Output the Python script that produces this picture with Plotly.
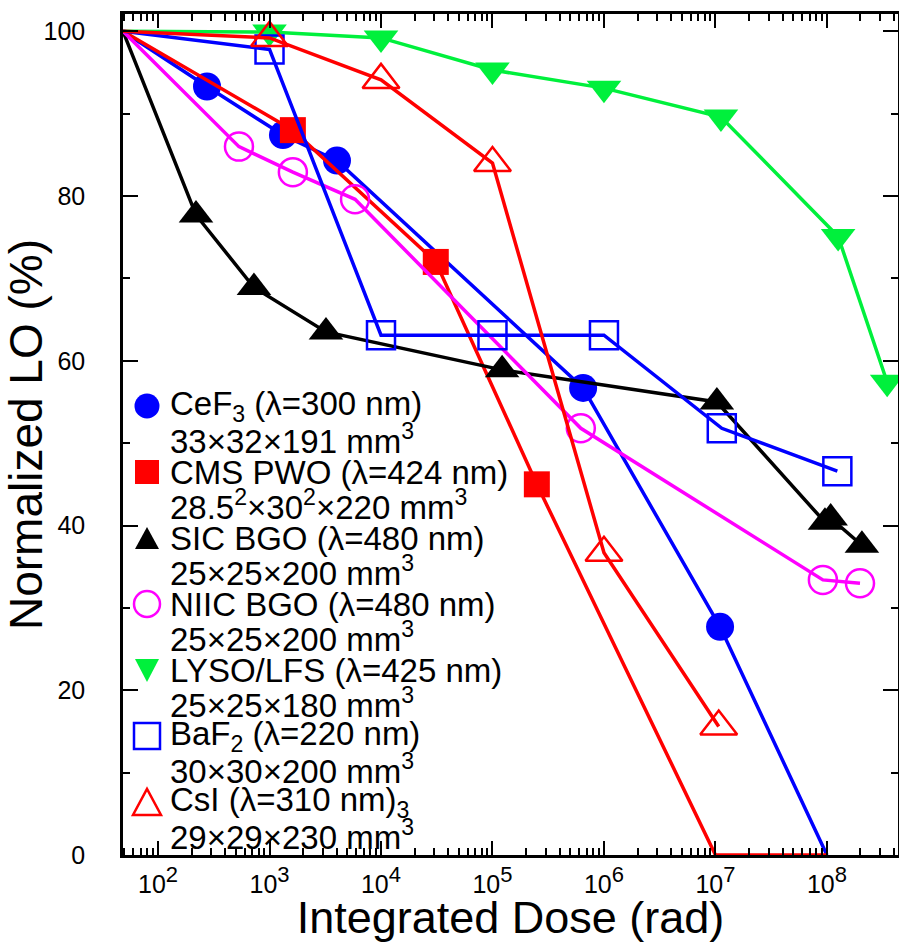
import math
import plotly.graph_objects as go

# ---------------- data ----------------
DOSE_START = 48.5          # left edge of the dose axis (rad)
DOSE_END = 4.34e8          # right edge of the dose axis (rad)

cef3_dose = [DOSE_START, 275, 1320, 4030, 6.5e5, 1.1e7, 1.0e8]
cef3_lo = [100, 93.3, 87.4, 84.3, 56.7, 27.7, 0]

pwo_dose = [DOSE_START, 1620, 3.1e4, 2.5e5, 1.0e7, 1.0e8]
pwo_lo = [100, 88.0, 72.0, 45.0, 0, 0]

sic_dose = [DOSE_START, 219, 725, 3210, 1.22e5, 1.03e7, 9.6e7, 1.08e8, 2.06e8]
sic_lo = [100, 77.7, 68.9, 63.5, 58.9, 55.0, 40.4, 40.9, 37.6]

niic_dose = [DOSE_START, 532, 1620, 5850, 6.2e5, 9.2e7, 1.98e8]
niic_lo = [100, 86.0, 82.9, 79.6, 51.8, 33.4, 33.0]

lyso_dose = [DOSE_START, 1.0e3, 1.0e4, 1.0e5, 1.0e6, 1.12e7, 1.26e8, 3.47e8]
lyso_lo = [100, 99.9, 99.2, 95.3, 93.1, 89.6, 75.1, 57.4]

baf2_dose = [DOSE_START, 1.0e3, 1.0e4, 1.0e5, 1.0e6, 1.14e7, 1.24e8]
baf2_lo = [100, 97.8, 63.1, 63.1, 63.1, 51.8, 46.6]

csi_dose = [DOSE_START, 1.0e3, 1.0e4, 1.0e5, 1.0e6, 1.07e7]
csi_lo = [100, 99.2, 94.1, 84.0, 36.7, 15.6]

legend_line1 = [
    "CeF<sub>3</sub> (λ=300 nm)",
    "CMS PWO (λ=424 nm)",
    "SIC BGO (λ=480 nm)",
    "NIIC BGO (λ=480 nm)",
    "LYSO/LFS (λ=425 nm)",
    "BaF<sub>2</sub> (λ=220 nm)",
    "CsI (λ=310 nm)<sub>3</sub>",
]
legend_line2 = [
    "33×32×191 mm<sup>3</sup>",
    "28.5<sup>2</sup>×30<sup>2</sup>×220 mm<sup>3</sup>",
    "25×25×200 mm<sup>3</sup>",
    "25×25×200 mm<sup>3</sup>",
    "25×25×180 mm<sup>3</sup>",
    "30×30×200 mm<sup>3</sup>",
    "29×29×230 mm<sup>3</sup>",
]
trace_names = ["CeF3", "CMS PWO", "SIC BGO", "NIIC BGO", "LYSO/LFS", "BaF2", "CsI"]

x_tick_vals = [1e2, 1e3, 1e4, 1e5, 1e6, 1e7, 1e8]
x_tick_exponents = [2, 3, 4, 5, 6, 7, 8]
y_tick_vals = [0, 20, 40, 60, 80, 100]

# ---------------- styles ----------------
GREEN = "#00F03C"
series = [
    (cef3_dose, cef3_lo, "#0000FF", "circle", 28, False),
    (pwo_dose, pwo_lo, "#FF0000", "square", 26, False),
    (sic_dose, sic_lo, "#000000", "triangle-up", 30, False),
    (niic_dose, niic_lo, "#FF00FF", "circle-open", 28, True),
    (lyso_dose, lyso_lo, GREEN, "triangle-down", 30, False),
    (baf2_dose, baf2_lo, "#0000FF", "square-open", 28, True),
    (csi_dose, csi_lo, "#FF0000", "triangle-up-open", 32, True),
]

W, H = 899, 943
L, R, T, B = 123, 898, 14, 855
FONT = "Liberation Sans, Arial, Helvetica, sans-serif"

x_tick_text = ["10<sup><span style='font-size:22px'>%d</span></sup>" % e
               for e in x_tick_exponents]

fig = go.Figure()
for (xs, ys, color, sym, size, is_open), name in zip(series, trace_names):
    sizes = [0 if (x == DOSE_START or y == 0) else size for x, y in zip(xs, ys)]
    fig.add_trace(go.Scatter(
        x=xs, y=ys, mode="lines+markers", name=name, showlegend=False,
        line=dict(color=color, width=3.5),
        marker=dict(symbol=sym, size=sizes, color=color, opacity=1,
                    line=dict(color=color, width=2.5 if is_open else 0)),
        opacity=1,
        cliponaxis=True,
    ))

# ---------------- legend drawn as keys + text ----------------
def px_x(p):
    return (p - L) / (R - L)


def px_y(p):
    return (B - p) / (B - T)


KEY_X = 147
TEXT_X = 168
ROW0 = 406
ROW_STEP = 66
LINE_STEP = 33

shapes = []
annotations = []
for i, ((_, _, color, sym, _, is_open), l1, l2) in enumerate(zip(series, legend_line1, legend_line2)):
    cy = ROW0 + ROW_STEP * i
    common = dict(xref="paper", yref="paper", xsizemode="pixel", ysizemode="pixel",
                  xanchor=px_x(KEY_X), yanchor=px_y(cy), layer="above")
    fill = "rgba(0,0,0,0)" if is_open else color
    ln = dict(color=color, width=2.5 if is_open else 0)
    if sym.startswith("circle"):
        r = 13 if is_open else 12.5
        shapes.append(dict(type="circle", x0=-r, x1=r, y0=-r, y1=r,
                           fillcolor=fill, line=ln, **common))
    elif sym.startswith("square"):
        r = 13 if is_open else 12
        shapes.append(dict(type="rect", x0=-r, x1=r, y0=-r, y1=r,
                           fillcolor=fill, line=ln, **common))
    elif sym.startswith("triangle-up"):
        w = 14 if is_open else 12
        h = 13 if is_open else 11
        shapes.append(dict(type="path", path="M%d,%d L%d,%d L0,%d Z" % (-w, -h, w, -h, h),
                           fillcolor=fill, line=ln, **common))
    else:  # triangle-down
        shapes.append(dict(type="path", path="M-12,11 L12,11 L0,-12 Z",
                           fillcolor=fill, line=ln, **common))
    for j, txt in enumerate((l1, l2)):
        annotations.append(dict(
            xref="paper", yref="paper", x=px_x(TEXT_X), y=px_y(cy + LINE_STEP * j),
            xanchor="left", yanchor="middle", text=txt, showarrow=False,
            font=dict(family=FONT, size=33, color="black"),
        ))

minor_x = [k * 10 ** n for n in range(1, 9) for k in range(2, 10)
           if DOSE_START <= k * 10 ** n <= DOSE_END]

fig.update_layout(
    width=W, height=H,
    margin=dict(l=L, r=W - R, t=T, b=H - B, autoexpand=False),
    paper_bgcolor="white", plot_bgcolor="white",
    font=dict(family=FONT, color="black"),
    shapes=shapes, annotations=annotations,
    xaxis=dict(
        type="log", range=[math.log10(DOSE_START), math.log10(DOSE_END)],
        tickmode="array", tickvals=x_tick_vals, ticktext=x_tick_text,
        ticks="inside", ticklen=14, tickwidth=2, tickcolor="black",
        showline=True, linewidth=2.5, linecolor="black", mirror="ticks",
        showgrid=False, zeroline=False,
        tickfont=dict(family=FONT, size=25, color="black"),
        ticklabelstandoff=5,
        minor=dict(tickmode="array", tickvals=minor_x, ticks="inside",
                   ticklen=7, tickwidth=1.5, tickcolor="black", showgrid=False),
        title=dict(text="Integrated Dose (rad)", standoff=3,
                   font=dict(family=FONT, size=45, color="black")),
        automargin=False,
    ),
    yaxis=dict(
        range=[0, 102.1],
        tickmode="array", tickvals=y_tick_vals,
        ticks="inside", ticklen=15, tickwidth=2, tickcolor="black",
        showline=True, linewidth=2.5, linecolor="black", mirror="ticks",
        showgrid=False, zeroline=False,
        tickfont=dict(family=FONT, size=25, color="black"),
        ticklabelstandoff=30,
        minor=dict(dtick=10, ticks="inside", ticklen=7, tickwidth=1.5,
                   tickcolor="black", showgrid=False),
        title=dict(text="Normalized LO (%)", standoff=0,
                   font=dict(family=FONT, size=46, color="black")),
        automargin=False,
    ),
)

fig.write_html("out.html")
